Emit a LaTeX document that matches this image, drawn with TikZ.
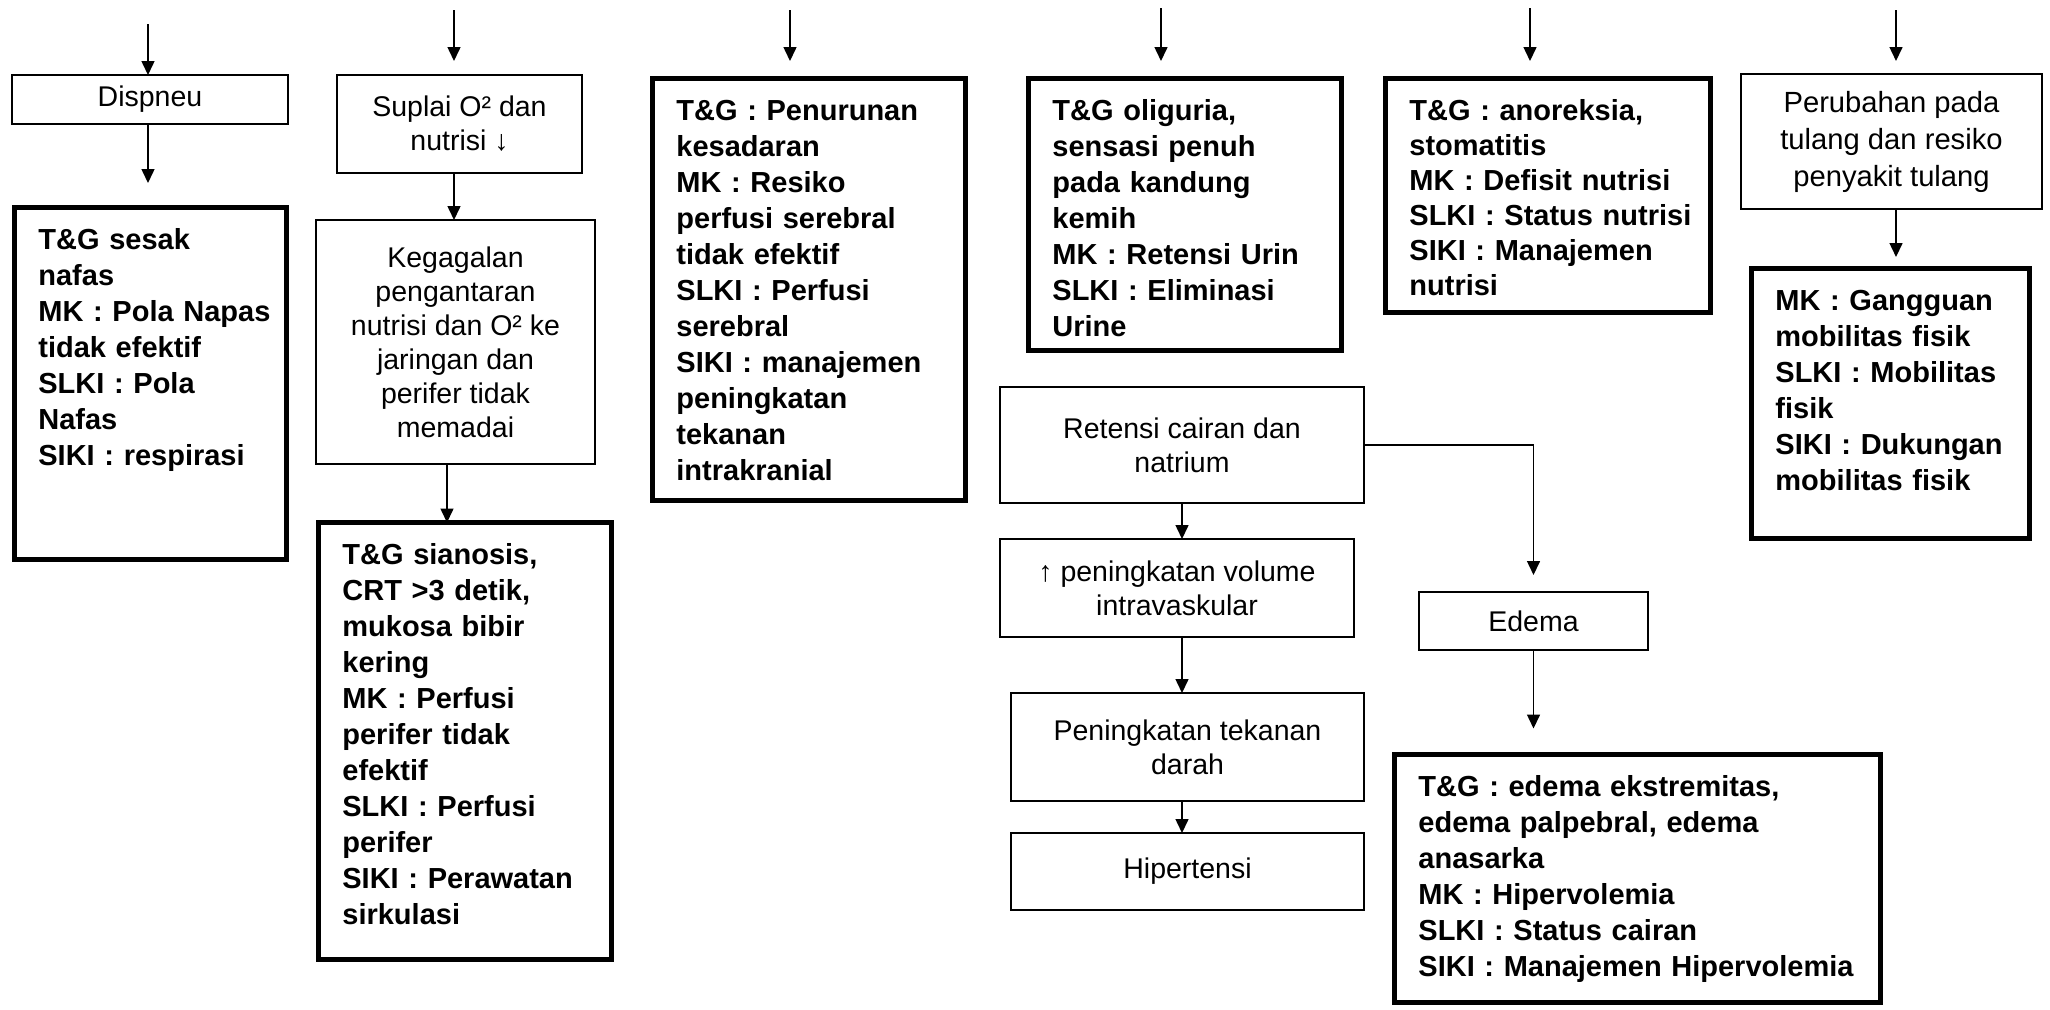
\documentclass[tikz,border=0pt]{standalone}
\usepackage{fontspec}
\setmainfont{Liberation Sans}
\usetikzlibrary{arrows.meta,calc}
\tikzset{
  sz/.style 2 args={minimum width=#1*0.5pt, minimum height=#2*0.5pt},
  tbox/.style={draw, line width=0.7pt, inner sep=0pt, outer sep=0pt, align=center,
    font=\fontsize{14.25pt}{17pt}\selectfont},
  kbox/.style={draw, line width=2.6pt, inner sep=0pt, outer sep=0pt},
  ktext/.style={anchor=base west, inner sep=0pt, text width=240pt, align=left,
    font=\fontsize{14.5pt}{18pt}\selectfont\bfseries},
  arr/.style={-{Triangle[length=7pt,width=6.5pt]}, line width=0.75pt},
}
\begin{document}
\begin{tikzpicture}[x=0.5pt,y=-0.5pt]
\useasboundingbox (0,0) rectangle (2050,1009);

% ---------- thin boxes ----------
\node[tbox, sz={276}{49}]  (dis) at (150,99.5)   {Dispneu};
\node[tbox, sz={245}{98}]  (sup) at (459.5,124)  {Suplai O² dan\\nutrisi ↓};
\node[tbox, sz={279}{244}] (keg) at (455.5,342)  {Kegagalan\\pengantaran\\nutrisi dan O² ke\\jaringan dan\\perifer tidak\\memadai};
\node[tbox, sz={364}{116}] (ret) at (1182,445)   {Retensi cairan dan\\natrium};
\node[tbox, sz={354}{98}]  (vol) at (1177,588)   {↑ peningkatan volume\\intravaskular};
\node[tbox, sz={353}{108}] (tek) at (1187.5,747) {Peningkatan tekanan\\darah};
\node[tbox, sz={353}{77}]  (hip) at (1187.5,871.5) {Hipertensi};
\node[tbox, sz={229}{58}]  (ede) at (1533.5,621) {Edema};
\node[tbox, sz={301}{135}, font=\fontsize{14.6pt}{18.5pt}\selectfont] (per) at (1891.5,141.5) {Perubahan pada\\tulang dan resiko\\penyakit tulang};

% ---------- thick boxes ----------
\node[kbox, sz={272}{352}] (tb1) at (150.5,383.5) {};
\node[kbox, sz={293}{437}] (tb2) at (465,741)     {};
\node[kbox, sz={313}{422}] (tb3) at (809,289.5)   {};
\node[kbox, sz={313}{272}] (tb4) at (1185,214.5)  {};
\node[kbox, sz={325}{234}] (tb5) at (1548,195.5)  {};
\node[kbox, sz={278}{270}] (tb6) at (1890.5,403.5) {};
\node[kbox, sz={486}{248}] (tbe) at (1637.5,878.5) {};

\node[ktext] (t1) at ($(tb1.north west)+(23.5,42)$) {T\&G sesak\\nafas\\MK : Pola Napas\\tidak efektif\\SLKI : Pola\\Nafas\\SIKI : respirasi};
\node[ktext] (t2) at ($(tb2.north west)+(23.5,42)$) {T\&G sianosis,\\CRT >3 detik,\\mukosa bibir\\kering\\MK : Perfusi\\perifer tidak\\efektif\\SLKI : Perfusi\\perifer\\SIKI : Perawatan\\sirkulasi};
\node[ktext] (t3) at ($(tb3.north west)+(23.5,42)$) {T\&G : Penurunan\\kesadaran\\MK : Resiko\\perfusi serebral\\tidak efektif\\SLKI : Perfusi\\serebral\\SIKI : manajemen\\peningkatan\\tekanan\\intrakranial};
\node[ktext] (t4) at ($(tb4.north west)+(23.5,42)$) {T\&G oliguria,\\sensasi penuh\\pada kandung\\kemih\\MK : Retensi Urin\\SLKI : Eliminasi\\Urine};
\node[ktext, font=\fontsize{14.5pt}{17.5pt}\selectfont\bfseries] (t5) at ($(tb5.north west)+(23.5,42)$) {T\&G : anoreksia,\\stomatitis\\MK : Defisit nutrisi\\SLKI : Status nutrisi\\SIKI : Manajemen\\nutrisi};
\node[ktext] (t6) at ($(tb6.north west)+(23.5,42)$) {MK : Gangguan\\mobilitas fisik\\SLKI : Mobilitas\\fisik\\SIKI : Dukungan\\mobilitas fisik};
\node[ktext] (te) at ($(tbe.north west)+(23.5,42)$) {T\&G : edema ekstremitas,\\edema palpebral, edema\\anasarka\\MK : Hipervolemia\\SLKI : Status cairan\\SIKI : Manajemen Hipervolemia};

% ---------- free arrow ends ----------
\coordinate (s1) at (148,24);
\coordinate (s2) at (454,10);   \coordinate (e2) at (454,61);
\coordinate (s3) at (790,10);   \coordinate (e3) at (790,61);
\coordinate (s4) at (1161,8);   \coordinate (e4) at (1161,61);
\coordinate (s5) at (1530,8);   \coordinate (e5) at (1530,61);
\coordinate (s6) at (1896,10);  \coordinate (e6) at (1896,61);
\coordinate (e1) at (148,183);
\coordinate (k2) at (447,0);

% ---------- connectors ----------
\draw[arr] (s1) -- (s1 |- dis.north);
\draw[arr] (dis.south -| s1) -- (e1);
\draw[arr] (s2) -- (e2);
\draw[arr] (sup.south -| s2) -- (keg.north -| s2);
\draw[arr] (keg.south -| k2) -- (tb2.north -| k2);
\draw[arr] (s3) -- (e3);
\draw[arr] (s4) -- (e4);
\draw[arr] (ret.south) -- (ret.south |- vol.north);
\draw[arr] (vol.south -| ret.south) -- (ret.south |- tek.north);
\draw[arr] (tek.south -| ret.south) -- (ret.south |- hip.north);
\draw[arr, shorten >=8.5pt] (ret.east) -| (ede.north);
\draw[arr, shorten >=13pt] (ede.south) -- (ede.south |- tbe.north);
\draw[arr] (s5) -- (e5);
\draw[arr] (s6) -- (e6);
\draw[arr, shorten >=5.75pt] (per.south -| s6) -- (tb6.north -| s6);
\end{tikzpicture}
\end{document}
